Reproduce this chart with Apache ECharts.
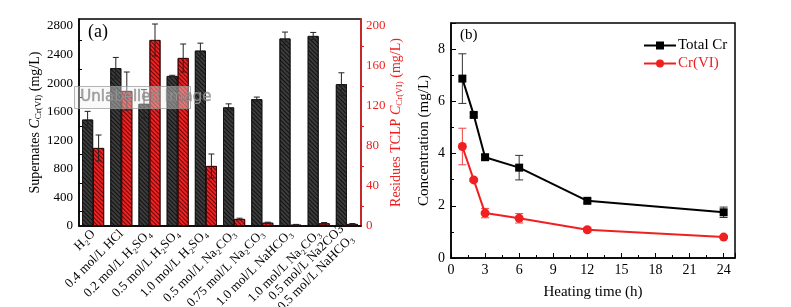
<!DOCTYPE html>
<html>
<head>
<meta charset="utf-8">
<script src="https://cdn.jsdelivr.net/npm/echarts@6/dist/echarts.min.js"></script>
<style>
  html, body { margin: 0; padding: 0; background: #fff; }
  #chart { width: 791px; height: 307px; }
</style>
</head>
<body>
<div id="chart"></div>
<script>
// panel (a) - leaching conditions
const categories = [
  'H₂O', '0.4 mol/L HCl', '0.2 mol/L H₂SO₄', '0.5 mol/L H₂SO₄', '1.0 mol/L H₂SO₄',
  '0.5 mol/L Na₂CO₃', '0.75 mol/L Na₂CO₃', '1.0 mol/L NaHCO₃', '1.0 mol/L Na₂CO₃',
  '0.5 mol/L Na2CO3\n+ 0.5 mol/L NaHCO₃'
];
const supernate = [1490, 2210, 1710, 2100, 2455, 1660, 1775, 2625, 2660, 1985];
const supernateErr = [115, 150, 200, 10, 105, 50, 30, 90, 50, 160];
const residue = [78, 135, 186, 168, 60, 7, 3.3, 1.3, 2.7, 2];
const residueErr = [13, 19, 16, 14, 12, 0.8, 0.5, 0.3, 0.8, 0.5];

// panel (b) - heating time
const hours = [1, 2, 3, 6, 12, 24];
const totalCr = [6.87, 5.48, 3.86, 3.46, 2.19, 1.75];
const totalCrErr = [0.95, 0.08, 0.1, 0.47, 0.08, 0.2];
const crVI = [4.27, 2.99, 1.72, 1.52, 1.08, 0.80];
const crVIErr = [0.7, 0.05, 0.18, 0.18, 0.08, 0.05];

const serif = 'Liberation Serif';
const BAR_W = 11;

function errData(vals, errs, withX) {
  return vals.map((v, i) => [withX ? withX[i] : i, v - errs[i], v + errs[i]]);
}

// draws an error bar; shift moves it to the left/right bar of a group
function errRender(shift, capHalf, color) {
  return function (params, api) {
    const x = api.value(0);
    const lo = api.coord([x, api.value(1)]);
    const hi = api.coord([x, api.value(2)]);
    const cx = lo[0] + shift;
    const style = { stroke: color, lineWidth: 1 };
    return {
      type: 'group',
      children: [
        { type: 'line', shape: { x1: cx, y1: lo[1], x2: cx, y2: hi[1] }, style: style },
        { type: 'line', shape: { x1: cx - capHalf, y1: lo[1], x2: cx + capHalf, y2: lo[1] }, style: style },
        { type: 'line', shape: { x1: cx - capHalf, y1: hi[1], x2: cx + capHalf, y2: hi[1] }, style: style }
      ]
    };
  };
}

const hatch = (c) => ({
  symbol: 'rect', symbolSize: 1,
  dashArrayX: [1, 0], dashArrayY: [1, 2],
  rotation: Math.PI / 4, color: c
});

const chart = echarts.init(document.getElementById('chart'));

const option = {
  animation: false,
  textStyle: { fontFamily: serif },
  grid: [
    { left: 79, right: 430, top: 19, bottom: 81, outerBoundsMode: 'none', containLabel: false,
      show: true, borderColor: '#000', borderWidth: 1.5, backgroundColor: 'transparent' },
    { left: 451, right: 56, top: 23, bottom: 49, outerBoundsMode: 'none', containLabel: false,
      show: true, borderColor: '#000', borderWidth: 1.5, backgroundColor: 'transparent' }
  ],
  legend: {
    left: 638, top: 33, orient: 'vertical', itemGap: 3,
    itemWidth: 32, itemHeight: 10,
    data: [
      { name: 'Total Cr', textStyle: { color: '#000' } },
      { name: 'Cr(VI)', textStyle: { color: '#f02020' } }
    ],
    textStyle: { fontFamily: serif, fontSize: 15, padding: [0, 0, 0, -3] }
  },
  xAxis: [
    {
      type: 'category', gridIndex: 0, data: categories,
      axisLine: { lineStyle: { color: '#000', width: 1.5 } },
      axisTick: { alignWithLabel: true, length: 4, lineStyle: { color: '#000' } },
      axisLabel: { rotate: 45, interval: 0, fontSize: 13, color: '#000', fontFamily: serif, margin: 6, lineHeight: 14 }
    },
    {
      type: 'value', gridIndex: 1, min: 0, max: 25, interval: 3,
      name: 'Heating time (h)', nameLocation: 'middle', nameGap: 27,
      nameTextStyle: { fontSize: 15, color: '#000', fontFamily: serif },
      axisLine: { lineStyle: { color: '#000', width: 1.5 } },
      axisTick: { inside: true, length: 5, lineStyle: { color: '#000' } },
      minorTick: { show: true, splitNumber: 2, length: 3, lineStyle: { color: '#000' } },
      splitLine: { show: false },
      axisLabel: {
        fontSize: 14, color: '#000', fontFamily: serif, margin: 5,
        formatter: (v) => (v % 3 === 0 ? String(v) : '')
      }
    }
  ],
  yAxis: [
    {
      type: 'value', gridIndex: 0, min: 0, max: 2898, interval: 400,
      name: '{a|Supernates }{i|C}{s|Cr(VI)}{a| (mg/L)}', nameLocation: 'middle', nameGap: 31, nameRotate: 90,
      nameTextStyle: {
        rich: {
          a: { fontSize: 14, fontFamily: serif, color: '#000' },
          i: { fontSize: 14, fontFamily: serif, fontStyle: 'italic', color: '#000' },
          s: { fontSize: 9, fontFamily: serif, color: '#000', verticalAlign: 'bottom', padding: [6, 0, 0, 0] }
        }
      },
      axisLine: { show: true, lineStyle: { color: '#000', width: 1.5 } },
      axisTick: { inside: true, length: 5, lineStyle: { color: '#000' } },
      minorTick: { show: true, splitNumber: 2, length: 3, lineStyle: { color: '#000' } },
      splitLine: { show: false },
      axisLabel: {
        fontSize: 13, color: '#000', fontFamily: serif, margin: 6,
        formatter: (v) => (v % 400 === 0 ? String(v) : '')
      }
    },
    {
      type: 'value', gridIndex: 0, position: 'right', min: 0, max: 207, interval: 40,
      name: '{a|Residues TCLP }{i|C}{s|Cr(VI)}{a| (mg/L)}', nameLocation: 'middle', nameGap: 27, nameRotate: 90,
      nameTextStyle: {
        rich: {
          a: { fontSize: 14, fontFamily: serif, color: '#f02020' },
          i: { fontSize: 14, fontFamily: serif, fontStyle: 'italic', color: '#f02020' },
          s: { fontSize: 9, fontFamily: serif, color: '#f02020', verticalAlign: 'bottom', padding: [6, 0, 0, 0] }
        }
      },
      axisLine: { show: true, lineStyle: { color: '#f02020', width: 1.5 } },
      axisTick: { length: 4, lineStyle: { color: '#f02020' } },
      minorTick: { show: true, splitNumber: 2, length: 3, lineStyle: { color: '#f02020' } },
      splitLine: { show: false },
      axisLabel: {
        fontSize: 13, color: '#f02020', fontFamily: serif, margin: 5,
        formatter: (v) => (v % 40 === 0 ? String(v) : '')
      }
    },
    {
      type: 'value', gridIndex: 1, min: 0, max: 9, interval: 2,
      name: 'Concentration (mg/L)', nameLocation: 'middle', nameGap: 19, nameRotate: 90,
      nameTextStyle: { fontSize: 15, color: '#000', fontFamily: serif },
      axisLine: { show: true, lineStyle: { color: '#000', width: 1.5 } },
      axisTick: { inside: true, length: 5, lineStyle: { color: '#000' } },
      minorTick: { show: true, splitNumber: 2, length: 3, lineStyle: { color: '#000' } },
      splitLine: { show: false },
      axisLabel: {
        fontSize: 14, color: '#000', fontFamily: serif, margin: 6,
        formatter: (v) => (v % 2 === 0 ? String(v) : '')
      }
    }
  ],
  series: [
    {
      type: 'bar', xAxisIndex: 0, yAxisIndex: 0, data: supernate,
      barWidth: BAR_W, barGap: '0%',
      itemStyle: { color: '#3c3c3c', borderColor: '#111', borderWidth: 0.8, decal: hatch('rgba(0,0,0,0.7)') }
    },
    {
      type: 'bar', xAxisIndex: 0, yAxisIndex: 1, data: residue,
      barWidth: BAR_W, barGap: '0%',
      itemStyle: { color: '#ee2222', borderColor: '#300', borderWidth: 0.8, decal: hatch('rgba(60,0,0,0.75)') }
    },
    {
      type: 'custom', xAxisIndex: 0, yAxisIndex: 0, z: 5,
      data: errData(supernate, supernateErr),
      encode: { x: 0, y: [1, 2] },
      renderItem: errRender(-BAR_W / 2, 3, '#222')
    },
    {
      type: 'custom', xAxisIndex: 0, yAxisIndex: 1, z: 5,
      data: errData(residue, residueErr),
      encode: { x: 0, y: [1, 2] },
      renderItem: errRender(BAR_W / 2, 3, '#222')
    },
    {
      name: 'Total Cr', type: 'line', xAxisIndex: 1, yAxisIndex: 2,
      data: hours.map((h, i) => [h, totalCr[i]]),
      symbol: 'rect', symbolSize: 8,
      lineStyle: { color: '#000', width: 2 },
      itemStyle: { color: '#000' }
    },
    {
      name: 'Cr(VI)', type: 'line', xAxisIndex: 1, yAxisIndex: 2,
      data: hours.map((h, i) => [h, crVI[i]]),
      symbol: 'circle', symbolSize: 9,
      lineStyle: { color: '#f02020', width: 2 },
      itemStyle: { color: '#f02020' }
    },
    {
      type: 'custom', xAxisIndex: 1, yAxisIndex: 2, z: 1,
      data: errData(totalCr, totalCrErr, hours),
      encode: { x: 0, y: [1, 2] },
      renderItem: errRender(0, 4, '#333')
    },
    {
      type: 'custom', xAxisIndex: 1, yAxisIndex: 2, z: 1,
      data: errData(crVI, crVIErr, hours),
      encode: { x: 0, y: [1, 2] },
      renderItem: errRender(0, 4, '#f04040')
    }
  ],
  graphic: [
    { type: 'text', left: 88, top: 23, style: { text: '(a)', fontSize: 18, fontFamily: serif, fill: '#000' } },
    { type: 'text', left: 460, top: 28, style: { text: '(b)', fontSize: 15, fontFamily: serif, fill: '#000' } },
    {
      type: 'rect', left: 74, top: 86, z: 100,
      shape: { width: 116, height: 22 },
      style: { fill: 'rgba(240,240,240,0.4)', stroke: 'rgba(150,150,150,0.7)', lineWidth: 1 }
    },
    {
      type: 'text', left: 80, top: 89, z: 101,
      style: {
        text: 'Unlabelled image', fontSize: 15, fontFamily: 'DejaVu Sans',
        fill: 'rgba(150,150,150,0.9)', stroke: 'rgba(90,90,90,0.5)', lineWidth: 0.6
      }
    }
  ]
};

chart.setOption(option);
</script>
</body>
</html>
